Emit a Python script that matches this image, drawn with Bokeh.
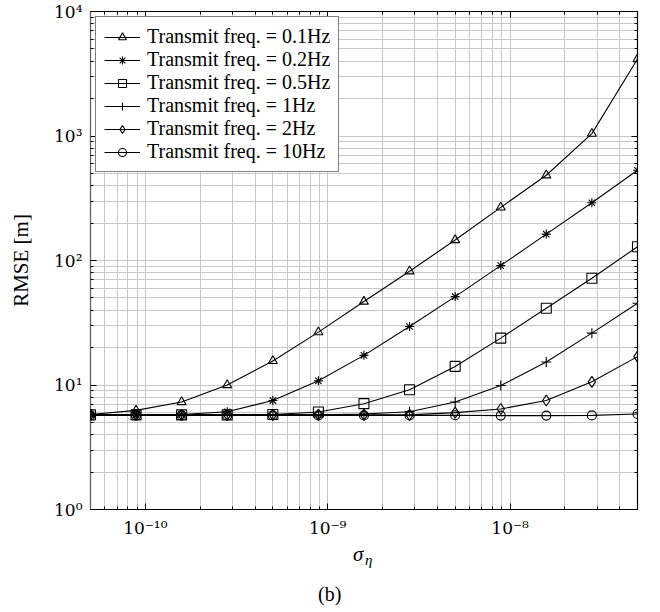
from bokeh.plotting import figure
from bokeh.layouts import column
from bokeh.models import (FixedTicker, CustomJSTickFormatter, LogAxis, Legend,
                          LegendItem, Range1d, Div)
from bokeh.embed import file_html
from bokeh.resources import INLINE

# ---- data ----
sigma = [5e-11, 8.89e-11, 1.58e-10, 2.81e-10, 5e-10, 8.89e-10, 1.58e-9,
         2.81e-9, 5e-9, 8.89e-9, 1.58e-8, 2.81e-8, 5e-8]
rmse_0p1 = [5.8, 6.25, 7.3, 10.0, 15.6, 26.6, 46.8, 82.0, 146.0, 267.0, 484.0, 1045.0, 4150.0]
rmse_0p2 = [5.75, 5.75, 5.8, 6.1, 7.5, 10.8, 17.3, 29.5, 51.3, 91.0, 163.0, 291.0, 531.0]
rmse_0p5 = [5.75, 5.75, 5.75, 5.75, 5.8, 6.07, 7.08, 9.16, 14.1, 23.8, 41.4, 72.0, 129.0]
rmse_1 = [5.75, 5.75, 5.75, 5.75, 5.75, 5.75, 5.85, 6.1, 7.3, 9.9, 15.3, 26.1, 45.4]
rmse_2 = [5.75, 5.75, 5.75, 5.75, 5.75, 5.75, 5.75, 5.75, 6.0, 6.42, 7.5, 10.6, 16.9]
rmse_10 = [5.7, 5.7, 5.7, 5.7, 5.7, 5.7, 5.7, 5.7, 5.72, 5.68, 5.68, 5.7, 5.85]

series = [rmse_0p1, rmse_0p2, rmse_0p5, rmse_1, rmse_2, rmse_10]
labels = ["Transmit freq. = 0.1Hz", "Transmit freq. = 0.2Hz",
          "Transmit freq. = 0.5Hz", "Transmit freq. = 1Hz",
          "Transmit freq. = 2Hz", "Transmit freq. = 10Hz"]
markers = ["triangle", "asterisk", "square", "cross", "diamond", "circle"]
msizes = [9, 9, 10, 10, 11, 9]

x_major = [1e-10, 1e-9, 1e-8]
x_minor = [k * 10.0 ** e for e in range(-11, -7) for k in range(2, 10)]
y_major = [1, 10, 100, 1000, 10000]
y_minor = [k * 10.0 ** e for e in range(0, 4) for k in range(2, 10)]

FONT = "Liberation Serif"
TICKFONT = "DejaVu Serif"

FRAME_W, FRAME_H = 547, 499
B_LEFT, B_TOP, B_RIGHT, B_BOTTOM = 90, 11, 15, 30
W = B_LEFT + FRAME_W + B_RIGHT

p = figure(width=W, height=B_TOP + FRAME_H + B_BOTTOM,
           x_axis_type="log", y_axis_type="log",
           x_range=Range1d(5e-11, 5e-8), y_range=Range1d(1, 1e4),
           output_backend="svg", toolbar_location=None,
           min_border_left=B_LEFT, min_border_right=B_RIGHT,
           min_border_top=B_TOP, min_border_bottom=B_BOTTOM)
p.background_fill_color = "white"
p.border_fill_color = "white"
p.outline_line_color = "black"
p.outline_line_width = 1.2

sup_code = """
const sup = {"0":"\u2070","1":"\u00b9","2":"\u00b2","3":"\u00b3","4":"\u2074",
             "5":"\u2075","6":"\u2076","7":"\u2077","8":"\u2078","9":"\u2079","-":"\u207b"};
const e = Math.round(Math.log10(tick));
return "10" + String(e).split("").map(c => sup[c]).join("");
"""

xt = FixedTicker(ticks=x_major, minor_ticks=x_minor)
yt = FixedTicker(ticks=y_major, minor_ticks=y_minor)

for ax, t in ((p.xaxis[0], xt), (p.yaxis[0], yt)):
    ax.ticker = t
    ax.formatter = CustomJSTickFormatter(code=sup_code)
    ax.axis_line_color = None
    ax.major_tick_in = 6
    ax.major_tick_out = 0
    ax.minor_tick_in = 3
    ax.minor_tick_out = 0
    ax.major_tick_line_color = "black"
    ax.minor_tick_line_color = "black"
    ax.major_label_text_font = TICKFONT
    ax.major_label_text_font_size = "17px"
    ax.major_label_text_color = "black"
    ax.major_label_standoff = 8

p.yaxis.axis_label = "RMSE [m]"
p.yaxis.axis_label_text_font = FONT
p.yaxis.axis_label_text_font_size = "21px"
p.yaxis.axis_label_text_font_style = "normal"
p.yaxis.axis_label_text_color = "black"
p.yaxis.axis_label_standoff = 18

# extra axes: inward ticks on top and right
for loc, t in (("above", xt), ("right", yt)):
    a = LogAxis(ticker=t, formatter=CustomJSTickFormatter(code="return ''"),
                axis_line_color=None, major_tick_in=6, major_tick_out=0,
                minor_tick_in=3, minor_tick_out=0, major_label_standoff=0,
                major_label_text_font_size="1px",
                major_tick_line_color="black", minor_tick_line_color="black")
    p.add_layout(a, loc)

for g, t in ((p.xgrid[0], xt), (p.ygrid[0], yt)):
    g.ticker = t
    g.grid_line_color = "#c8c8c8"
    g.grid_line_width = 1
    g.minor_grid_line_color = "#c8c8c8"
    g.minor_grid_line_width = 1

items = []
for ys, lab, mk, ms in zip(series, labels, markers, msizes):
    lr = p.line(sigma, ys, line_color="black", line_width=1.1)
    sr = p.scatter(sigma, ys, marker=mk, size=ms, line_color="black",
                   fill_color=None, line_width=1.1)
    items.append(LegendItem(label=lab, renderers=[lr, sr]))

leg = Legend(items=items, location="top_left", margin=5, padding=8,
             spacing=0, glyph_width=36, glyph_height=20, label_height=20,
             label_standoff=7, label_text_font=FONT,
             label_text_font_size="20px", label_text_color="black",
             border_line_color="black", border_line_width=1,
             background_fill_color="white", background_fill_alpha=1.0)
p.add_layout(leg)

# x-axis title (sigma with subscript eta) and the caption, as real HTML text
caption_html = (
    '<div style="position:relative;width:%dpx;height:70px;'
    'font-family:\'Liberation Serif\',serif;color:black;">'
    '<span style="position:absolute;left:353px;top:4px;font-size:21px;'
    'line-height:21px;font-style:italic;white-space:nowrap;">\u03c3</span>'
    '<span style="position:absolute;left:365px;top:13px;font-size:15px;'
    'line-height:15px;font-style:italic;white-space:nowrap;">\u03b7</span>'
    '<span style="position:absolute;left:318px;top:44px;font-size:20px;'
    'line-height:20px;white-space:nowrap;">(b)</span>'
    '</div>' % W
)
cap = Div(text=caption_html, width=W, height=70, margin=0)

layout = column(p, cap, spacing=0)
open("out.html", "w").write(file_html(layout, INLINE))
